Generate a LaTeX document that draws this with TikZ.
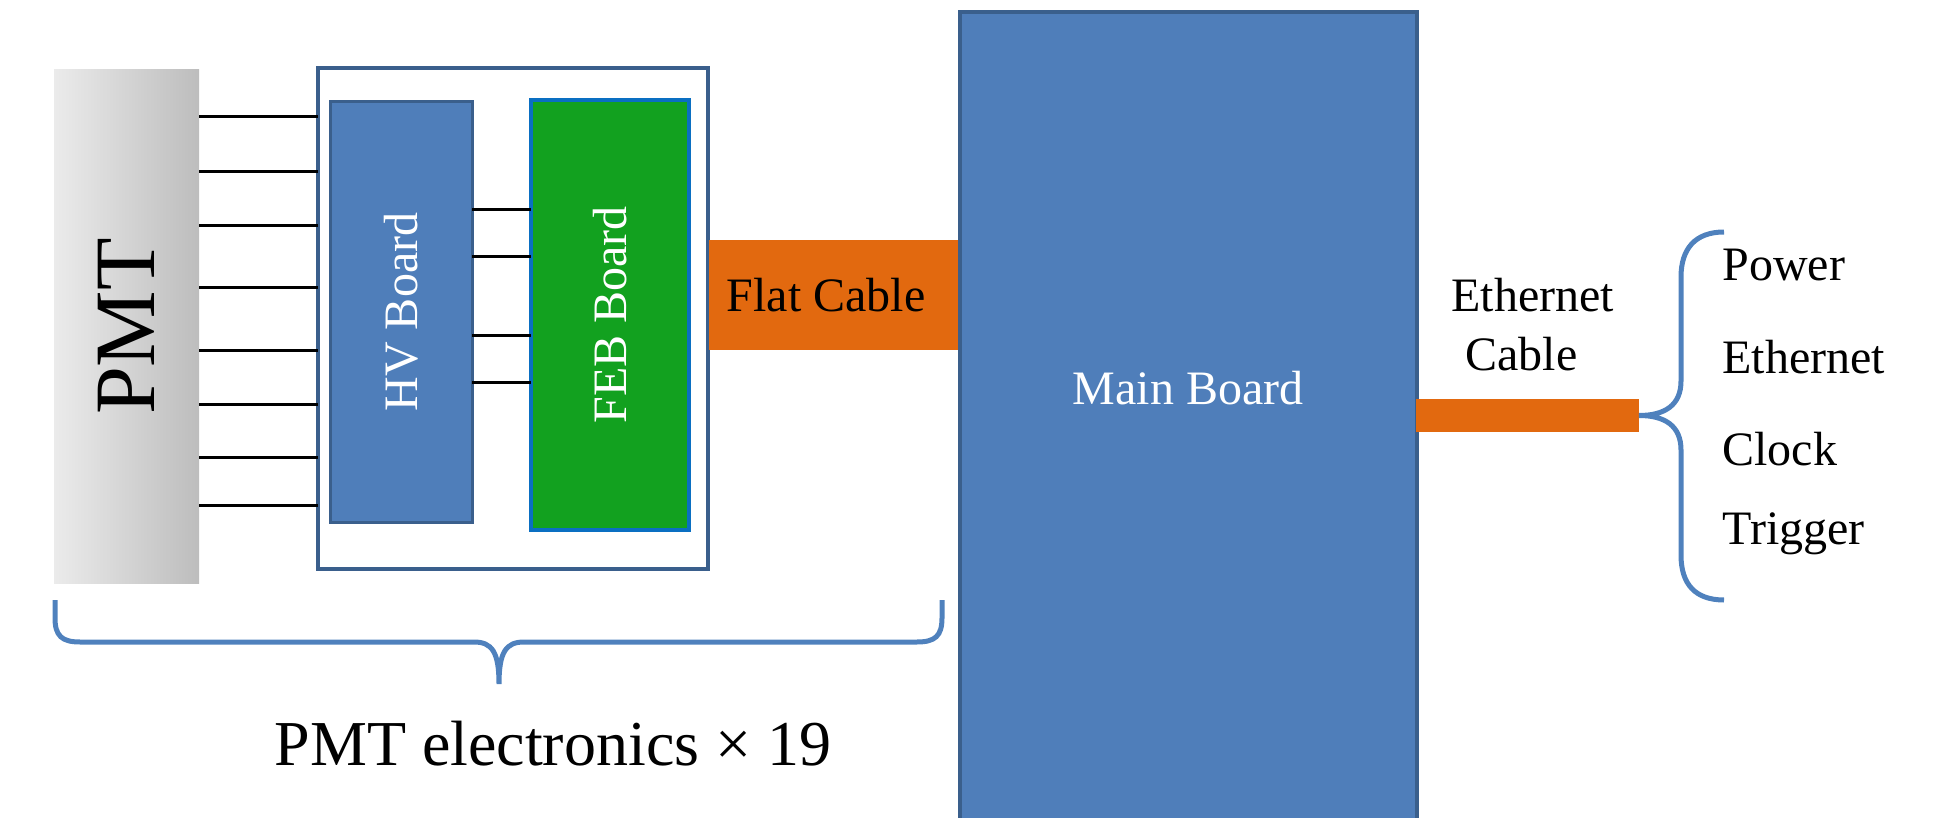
\documentclass[tikz,border=0pt]{standalone}
\usepackage{fontspec}
\setmainfont{Liberation Serif}
\definecolor{boardblue}{HTML}{4F7EBA}
\definecolor{edgeblue}{HTML}{3A5F8C}
\definecolor{cableorange}{HTML}{E2690F}
\definecolor{febgreen}{HTML}{12A11F}
\definecolor{febedge}{HTML}{0A6FC2}
\definecolor{bracecol}{HTML}{4F81BD}
\definecolor{pmtlight}{HTML}{EBEBEB}
\definecolor{pmtdark}{HTML}{BDBDBD}
\begin{document}
\begin{tikzpicture}[x=0.5pt,y=-0.5pt,
  box/.style={rectangle, inner sep=0pt, outer sep=0pt},
  wire/.style={line width=1.5pt, black},
  bracket/.style={line width=2.5pt, bracecol},
  lbl/.style={font=\fontsize{24}{28}\selectfont, inner sep=0pt}]
\useasboundingbox (0,0) rectangle (1938,818);
\clip (0,0) rectangle (1938,818);

% photomultiplier tube
\node[box, minimum width=72.5pt, minimum height=256.5pt,
      left color=pmtlight, right color=pmtdark] (pmt) at (126.5,326.5) {};
\node[rotate=90, inner sep=0pt, font=\fontsize{43}{50}\selectfont] (pmtlbl) at (pmt.center) {PMT};

% electronics enclosure
\node[box, draw=edgeblue, line width=1.8pt, fill=white,
      minimum width=195pt, minimum height=250.5pt] (elec) at (513,318.5) {};
\foreach \yy in {117,172,226,288,350,404,457,505}
  \draw[wire] (pmt.east |- 0,\yy) -- (elec.west |- 0,\yy);

% HV and FEB boards
\node[box, draw=edgeblue, line width=1.5pt, fill=boardblue,
      minimum width=71pt, minimum height=210pt] (hv) at (401,312) {};
\node[lbl, rotate=90, text=white] (hvlbl) at (hv.center) {HV Board};
\node[box, draw=febedge, line width=2pt, fill=febgreen,
      minimum width=79pt, minimum height=215pt] (feb) at (610,315) {};
\node[lbl, rotate=90, text=white] (feblbl) at (feb.center) {FEB Board};
\foreach \yy in {210,257,335,382}
  \draw[wire] (hv.east |- 0,\yy) -- (feb.west |- 0,\yy);

% flat cable and main board
\node[box, fill=cableorange, minimum width=125.5pt, minimum height=55pt] (flat) at (834.5,295) {};
\node[lbl, anchor=base] (flatlbl) at (826,312) {Flat Cable};
\node[box, draw=edgeblue, line width=2pt, fill=boardblue,
      minimum width=228.5pt, minimum height=412pt] (main) at (1188.5,424) {};
\node[lbl, anchor=base, text=white] (mainlbl) at (1188,404) {Main Board};

% ethernet cable
\node[box, fill=cableorange, minimum width=111.5pt, minimum height=16.5pt] (eth) at (1527.5,415.5) {};
\node[lbl, anchor=base west] (ethlbl1) at (1451,312) {Ethernet};
\node[lbl, anchor=base west] (ethlbl2) at (1465,370) {Cable};

% signals carried by the ethernet cable
\coordinate (rtop) at (1724,232);
\coordinate (rbot) at (1724,600);
\draw[bracket] (rtop) .. controls (1695,232) and (1681,249) .. (1681,277)
  -- (1681,381) .. controls (1681,405) and (1665,415.5) .. (eth.east)
  .. controls (1665,415.5) and (1681,426) .. (1681,450)
  -- (1681,555) .. controls (1681,584) and (1695,600) .. (rbot);
\node[lbl, anchor=base west] (sig1) at (1722,281) {Power};
\node[lbl, anchor=base west] (sig2) at (1722,373) {Ethernet};
\node[lbl, anchor=base west] (sig3) at (1722,465) {Clock};
\node[lbl, anchor=base west] (sig4) at (1722,544) {Trigger};

% grouping of the PMT electronics
\coordinate (btip) at (499,684);
\draw[bracket] (55,600) -- (55,618) .. controls (55,636) and (62,642) .. (80,642)
  -- (474,642) .. controls (492,642) and (499,652) .. (btip)
  .. controls (499,652) and (506,642) .. (524,642)
  -- (917,642) .. controls (935,642) and (942,636) .. (942,618) -- (942,600);
\node[inner sep=0pt, anchor=base, font=\fontsize{32}{38}\selectfont] (grplbl) at (553,765) {PMT electronics × 19};
\end{tikzpicture}
\end{document}
